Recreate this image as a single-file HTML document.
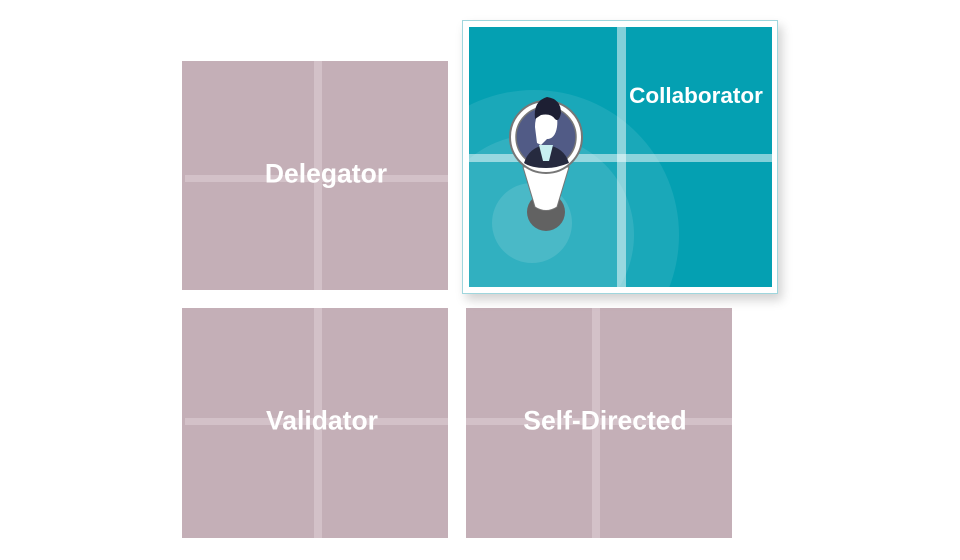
<!DOCTYPE html>
<html><head><style>
body{margin:0;width:960px;height:560px;background:#fff;position:relative;overflow:hidden;font-family:"Liberation Sans",sans-serif}
.b{position:absolute;background:#c4afb7;overflow:hidden}
.b .v{position:absolute;top:0;bottom:0;width:8px;background:#d3c1c8}
.b .h{position:absolute;left:3px;right:0;height:7px;background:#d3c1c8}
.t{position:absolute;color:#fff;font-weight:bold;font-size:26.5px;transform:translate(-50%,-50%);white-space:nowrap}
</style></head><body>
<div class="b" style="left:182px;top:61px;width:266px;height:229px"><div class="v" style="left:132px"></div><div class="h" style="top:114px"></div></div>
<div class="b" style="left:182px;top:308px;width:266px;height:230px"><div class="v" style="left:132px"></div><div class="h" style="top:110px"></div></div>
<div class="b" style="left:466px;top:308px;width:266px;height:230px"><div class="v" style="left:126px"></div><div class="h" style="top:110px;left:0"></div></div>
<div class="t" style="left:326px;top:174px">Delegator</div>
<div class="t" style="left:322px;top:421px">Validator</div>
<div class="t" style="left:605px;top:421px">Self-Directed</div>
<div style="position:absolute;left:462px;top:20px;width:314px;height:272px;background:#fff;border:1px solid #9fd6dd;box-shadow:4px 6px 10px rgba(0,0,0,0.18)"></div>
<svg style="position:absolute;left:469px;top:27px" width="303" height="260">
<defs><clipPath id="c"><rect width="303" height="260"/></clipPath></defs>
<g clip-path="url(#c)">
<rect width="303" height="260" fill="#04a0b2"/>
<circle cx="65" cy="208" r="145" fill="#fff" opacity="0.09"/>
<circle cx="65" cy="208" r="100" fill="#fff" opacity="0.1"/>
<circle cx="63" cy="196" r="40" fill="#fff" opacity="0.12"/>
<rect x="148" y="0" width="9" height="260" fill="#fff" opacity="0.5"/>
<rect x="0" y="127" width="303" height="8" fill="#fff" opacity="0.5"/>
<circle cx="77" cy="185" r="19" fill="#626262"/>
<path d="M54 140 L100 140 L88 180 Q77 187 66 180 Z" fill="#fff" stroke="#777" stroke-width="1"/>
<circle cx="77" cy="110" r="36" fill="#fff" stroke="#777" stroke-width="2"/>
<circle cx="77" cy="110" r="30" fill="#515b86" stroke="#777" stroke-width="1.5"/>
<path d="M55 136 Q60 120 77 118 Q95 120 100 136 Q88 141 77 141 Q62 141 55 136Z" fill="#262a3f"/>
<path d="M70 118 L84 118 L80 134 L74 134Z" fill="#c7eef0"/>
<path d="M66 100 Q66 82 80 82 Q90 85 88 100 Q86 112 78 112 L72 118 L68 116Z" fill="#fff"/>
<path d="M66 92 Q64 74 78 70 Q92 72 92 86 Q90 96 86 92 Q82 86 72 88 Z" fill="#1d1f33"/>
</g></svg>
<div class="t" style="left:696px;top:96px;font-size:22.5px">Collaborator</div>
</body></html>
